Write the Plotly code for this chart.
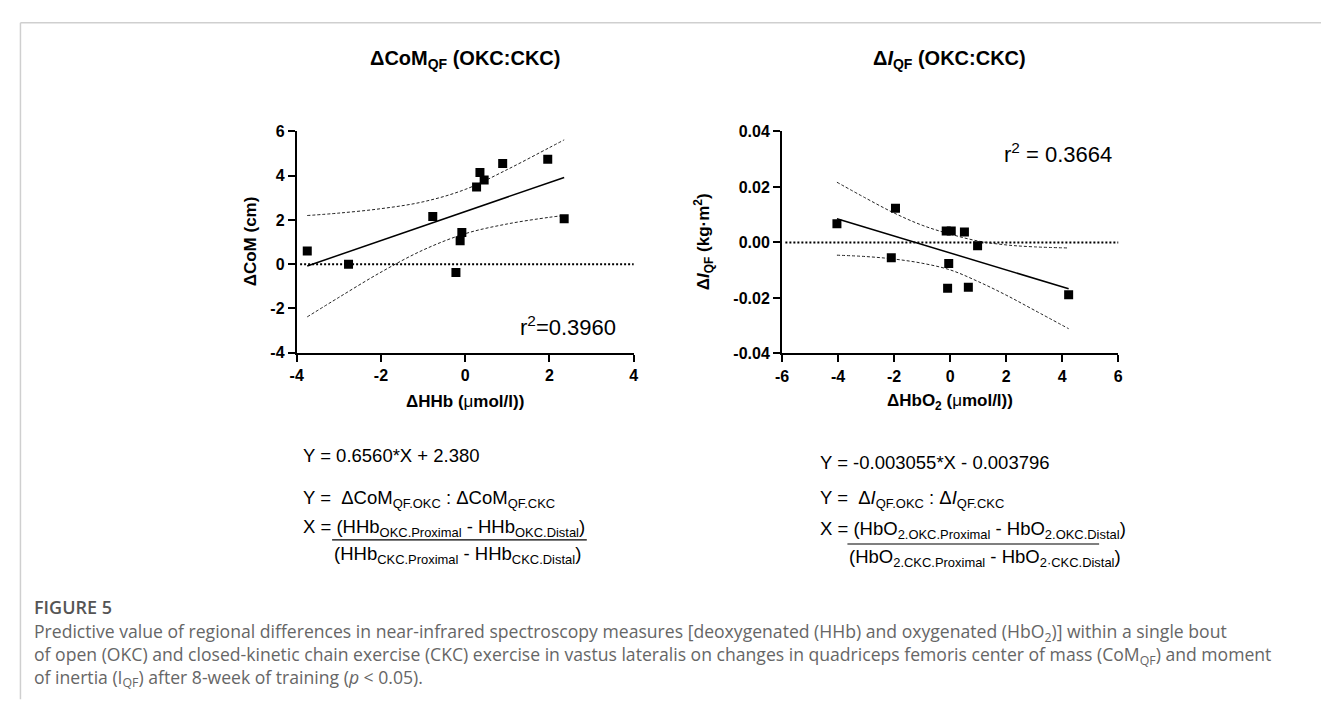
import plotly.graph_objects as go

W, H = 1329, 707

# ---------------- data ----------------
com_x = [-3.75, -2.77, -0.77, -0.22, -0.12, -0.08, 0.27, 0.35, 0.45, 0.89, 1.96, 2.35]
com_y = [0.60, 0.00, 2.16, -0.38, 1.06, 1.43, 3.49, 4.15, 3.81, 4.55, 4.74, 2.05]
com_slope, com_intercept = 0.6560, 2.380
com_band_x = [-3.75, -3, -2, -1, 0, 1, 2, 2.35]
com_band_upper = [2.20, 2.31, 2.51, 2.82, 3.38, 4.28, 5.27, 5.62]
com_band_lower = [-2.38, -1.50, -0.36, 0.64, 1.38, 1.82, 2.12, 2.20]

ioi_x = [-4.04, -2.10, -1.95, -0.14, 0.04, 0.51, 0.98, -0.05, -0.09, 0.65, 4.23]
ioi_y = [0.0067, -0.0055, 0.0123, 0.0041, 0.0041, 0.0038, -0.0012, -0.0076, -0.0165, -0.0162, -0.0189]
ioi_slope, ioi_intercept = -0.003055, -0.003796
ioi_band_x = [-4.04, -3, -2, -1, 0, 1, 2, 3, 4.23]
ioi_band_upper = [0.0217, 0.0159, 0.0106, 0.0062, 0.0030, 0.0005, -0.0009, -0.0016, -0.0020]
ioi_band_lower = [-0.0046, -0.0051, -0.0060, -0.0075, -0.0099, -0.0141, -0.0190, -0.0244, -0.0311]

com_xticks = [-4, -2, 0, 2, 4]
com_xticklabels = ["-4", "-2", "0", "2", "4"]
com_yticks = [-4, -2, 0, 2, 4, 6]
com_yticklabels = ["-4", "-2", "0", "2", "4", "6"]
ioi_xticks = [-6, -4, -2, 0, 2, 4, 6]
ioi_xticklabels = ["-6", "-4", "-2", "0", "2", "4", "6"]
ioi_yticks = [-0.04, -0.02, 0.0, 0.02, 0.04]
ioi_yticklabels = ["-0.04", "-0.02", "0.00", "0.02", "0.04"]


def fx(p):
    return p / W


def fy(p):
    return 1 - p / H


FONT = "Liberation Sans, Arial, sans-serif"
CAP = "Open Sans, sans-serif"

fig = go.Figure()


def add_panel(xs, ys, slope, intercept, bx, bu, bl, xa, ya):
    fig.add_trace(go.Scatter(x=bx, y=bu, mode="lines", xaxis=xa, yaxis=ya,
                             line=dict(color="#222", width=1, dash="3px,2px", shape="spline"),
                             showlegend=False, hoverinfo="skip"))
    fig.add_trace(go.Scatter(x=bx, y=bl, mode="lines", xaxis=xa, yaxis=ya,
                             line=dict(color="#222", width=1, dash="3px,2px", shape="spline"),
                             showlegend=False, hoverinfo="skip"))
    x0, x1 = min(xs), max(xs)
    fig.add_trace(go.Scatter(x=[x0, x1], y=[slope * x0 + intercept, slope * x1 + intercept],
                             mode="lines", xaxis=xa, yaxis=ya,
                             line=dict(color="black", width=1.5), showlegend=False))
    fig.add_trace(go.Scatter(x=xs, y=ys, mode="markers", xaxis=xa, yaxis=ya,
                             marker=dict(symbol="square", size=9, color="black"),
                             showlegend=False))


add_panel(com_x, com_y, com_slope, com_intercept, com_band_x, com_band_upper, com_band_lower, "x", "y")
add_panel(ioi_x, ioi_y, ioi_slope, ioi_intercept, ioi_band_x, ioi_band_upper, ioi_band_lower, "x2", "y2")

axis_common = dict(showline=True, linewidth=2, linecolor="black", ticks="outside", ticklen=7,
                   tickwidth=2, tickcolor="black", showgrid=False, zeroline=False,
                   tickfont=dict(family=FONT, size=16, color="black", weight="bold"))

fig.update_layout(
    width=W, height=H, margin=dict(l=0, r=0, t=0, b=0),
    paper_bgcolor="white", plot_bgcolor="white", showlegend=False,
    xaxis=dict(domain=[fx(284.3), fx(624.3)], range=[-4, 4], tickvals=com_xticks,
               ticktext=com_xticklabels, anchor="y", **axis_common),
    yaxis=dict(domain=[fy(345), fy(118.3)], range=[-4, 6], tickvals=com_yticks,
               ticktext=com_yticklabels, anchor="x", **axis_common),
    xaxis2=dict(domain=[fx(774), fx(1113.3)], range=[-6, 6], tickvals=ioi_xticks,
                ticktext=ioi_xticklabels, anchor="y2", **axis_common),
    yaxis2=dict(domain=[fy(345.7), fy(118.3)], range=[-0.04, 0.04], tickvals=ioi_yticks,
                ticktext=ioi_yticklabels, anchor="x2", **axis_common),
)

shapes = []
# dotted zero lines
for xr, yr in [("x domain", "y"), ("x2 domain", "y2")]:
    shapes.append(dict(type="line", xref=xr, yref=yr, x0=0.01, x1=1, y0=0, y1=0,
                       line=dict(color="black", width=2, dash="2px,2px"), layer="below"))
# fraction bars
shapes.append(dict(type="line", xref="paper", yref="paper", x0=fx(320), x1=fx(577),
                   y0=fy(536.7), y1=fy(536.7), line=dict(color="black", width=1.2)))
shapes.append(dict(type="line", xref="paper", yref="paper", x0=fx(840), x1=fx(1094),
                   y0=fy(541), y1=fy(541), line=dict(color="black", width=1.2)))
# frame
shapes.append(dict(type="line", xref="paper", yref="paper", x0=fx(5.5), x1=1,
                   y0=fy(7), y1=fy(7), line=dict(color="#cfcfcf", width=1.5)))
shapes.append(dict(type="line", xref="paper", yref="paper", x0=fx(5.5), x1=fx(5.5),
                   y0=fy(7), y1=fy(700), line=dict(color="#cfcfcf", width=1.5)))
fig.update_layout(shapes=shapes)

ann = []


def A(text, x, y, size, xanchor="center", yanchor="middle", family=FONT, color="black",
      textangle=0, weight="normal", align="center"):
    ann.append(dict(text=text, x=fx(x), y=fy(y), xref="paper", yref="paper",
                    xanchor=xanchor, yanchor=yanchor, showarrow=False, textangle=textangle,
                    align=align,
                    font=dict(family=family, size=size, color=color, weight=weight)))


# titles
A("<b>ΔCoM<sub>QF</sub> (OKC:CKC)</b>", 454.5, 45, 20)
A("<b>Δ<i>I</i><sub>QF</sub> (OKC:CKC)</b>", 943.5, 45, 20)
# axis titles
A("<b>ΔCoM (cm)</b>", 238, 231, 17, textangle=-90)
A("<b>ΔHHb (</b>μ<b>mol/l))</b>", 454.5, 395, 17)
A("<b>Δ<i>I</i><sub>QF</sub> (kg·m<sup>2</sup>)</b>", 695, 231, 17, textangle=-90)
A("<b>ΔHbO<sub>2</sub> (</b>μ<b>mol/l))</b>", 943.5, 395, 17)
# r^2
A("r<sup>2</sup>=0.3960", 508, 318, 22, xanchor="left")
A("r<sup>2</sup> = 0.3664", 996, 140, 22, xanchor="left")
# equations left
A("Y = 0.6560*X + 2.380", 289, 450, 18.5, xanchor="left")
A("Y =  ΔCoM<sub>QF.OKC</sub> : ΔCoM<sub>QF.CKC</sub>", 289, 495, 18.5, xanchor="left")
A("X = (HHb<sub>OKC.Proximal</sub> - HHb<sub>OKC.Distal</sub>)", 289, 525, 18.5, xanchor="left")
A("(HHb<sub>CKC.Proximal</sub> - HHb<sub>CKC.Distal</sub>)", 320, 552, 18.5, xanchor="left")
# equations right
A("Y = -0.003055*X - 0.003796", 810, 457, 18.5, xanchor="left")
A("Y =  Δ<i>I</i><sub>QF.OKC</sub> : Δ<i>I</i><sub>QF.CKC</sub>", 810, 495, 18.5, xanchor="left")
A("X = (HbO<sub>2.OKC.Proximal</sub> - HbO<sub>2.OKC.Distal</sub>)", 810, 527, 18.5, xanchor="left")
A("(HbO<sub>2.CKC.Proximal</sub> - HbO<sub>2·CKC.Distal</sub>)", 840, 555, 18.5, xanchor="left")
# caption
A("FIGURE 5", 17, 606, 18, xanchor="left", family=CAP, color="#555555", weight=600)
cap_lines = [
    "Predictive value of regional differences in near-infrared spectroscopy measures [deoxygenated (HHb) and oxygenated (HbO<sub>2</sub>)] within a single bout",
    "of open (OKC) and closed-kinetic chain exercise (CKC) exercise in vastus lateralis on changes in quadriceps femoris center of mass (CoM<sub>QF</sub>) and moment",
    "of inertia (I<sub>QF</sub>) after 8-week of training (<i>p</i> &lt; 0.05).",
]
A("<br>".join(cap_lines), 17, 655, 17.6, xanchor="left", family=CAP, color="#666666",
  align="left")

fig.update_layout(annotations=ann)
fig.write_html("out.html")
